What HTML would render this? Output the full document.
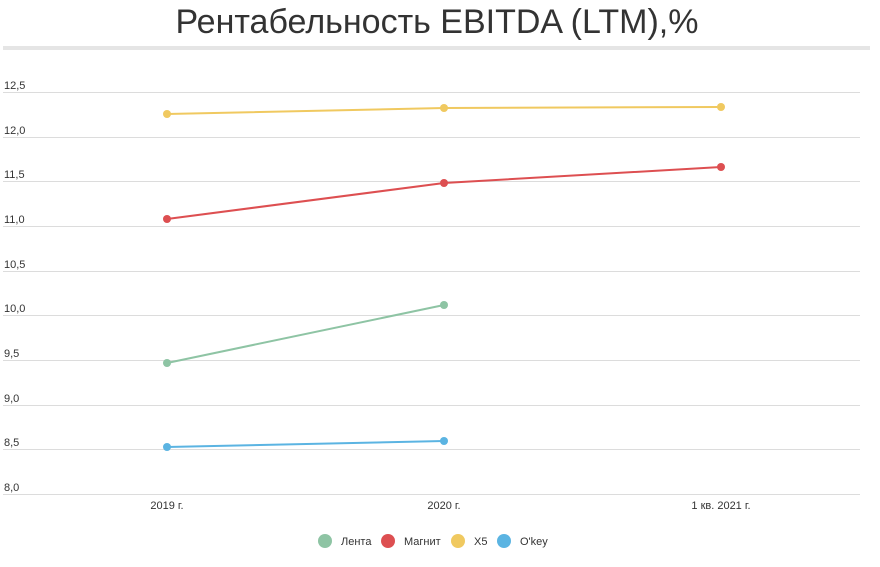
<!DOCTYPE html>
<html><head><meta charset="utf-8"><style>
body{margin:0;background:#fff;width:880px;height:567px;overflow:hidden}
svg{display:block;font-family:"Liberation Sans",sans-serif}
</style></head><body>
<svg width="880" height="567" viewBox="0 0 880 567">
<text x="437" y="33" text-anchor="middle" font-size="34" fill="#333">Рентабельность EBITDA (LTM),%</text>
<rect x="3" y="46" width="867" height="4" fill="#e5e5e5"/>
<g stroke="#dcdcdc" stroke-width="1">
<line x1="3" x2="860" y1="92.5" y2="92.5"/><line x1="3" x2="860" y1="137.5" y2="137.5"/>
<line x1="3" x2="860" y1="181.5" y2="181.5"/><line x1="3" x2="860" y1="226.5" y2="226.5"/>
<line x1="3" x2="860" y1="271.5" y2="271.5"/><line x1="3" x2="860" y1="315.5" y2="315.5"/>
<line x1="3" x2="860" y1="360.5" y2="360.5"/><line x1="3" x2="860" y1="405.5" y2="405.5"/>
<line x1="3" x2="860" y1="449.5" y2="449.5"/><line x1="3" x2="860" y1="494.5" y2="494.5"/>
</g>
<g font-size="11" fill="#333">
<text x="4" y="89">12,5</text><text x="4" y="134">12,0</text><text x="4" y="178">11,5</text>
<text x="4" y="223">11,0</text><text x="4" y="268">10,5</text><text x="4" y="312">10,0</text>
<text x="4" y="357">9,5</text><text x="4" y="402">9,0</text><text x="4" y="446">8,5</text>
<text x="4" y="491">8,0</text>
</g>
<g font-size="11" fill="#333" text-anchor="middle">
<text x="167" y="509">2019 г.</text><text x="444" y="509">2020 г.</text><text x="721" y="509">1 кв. 2021 г.</text>
</g>
<g stroke-width="2" fill="none">
<polyline points="167,114 444,108 721,107" stroke="#f0c960"/>
<polyline points="167,219 444,183 721,167" stroke="#dd4f51"/>
<polyline points="167,363 444,305" stroke="#8ec4a4"/>
<polyline points="167,447 444,441" stroke="#5bb4e2"/>
</g>
<g fill="#f0c960"><circle cx="167" cy="114" r="4"/><circle cx="444" cy="108" r="4"/><circle cx="721" cy="107" r="4"/></g>
<g fill="#dd4f51"><circle cx="167" cy="219" r="4"/><circle cx="444" cy="183" r="4"/><circle cx="721" cy="167" r="4"/></g>
<g fill="#8ec4a4"><circle cx="167" cy="363" r="4"/><circle cx="444" cy="305" r="4"/></g>
<g fill="#5bb4e2"><circle cx="167" cy="447" r="4"/><circle cx="444" cy="441" r="4"/></g>
<g font-size="11" fill="#333">
<circle cx="325" cy="541" r="7" fill="#8ec4a4"/><text x="341" y="545">Лента</text>
<circle cx="388" cy="541" r="7" fill="#dd4f51"/><text x="404" y="545">Магнит</text>
<circle cx="458" cy="541" r="7" fill="#f0c960"/><text x="474" y="545">X5</text>
<circle cx="504" cy="541" r="7" fill="#5bb4e2"/><text x="520" y="545">O'key</text>
</g>
</svg>
</body></html>
